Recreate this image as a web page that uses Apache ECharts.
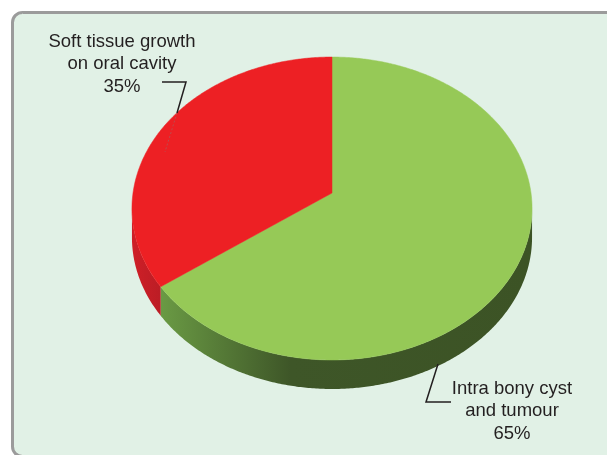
<!DOCTYPE html>
<html>
<head>
<meta charset="utf-8">
<script src="https://cdn.jsdelivr.net/npm/echarts@6/dist/echarts.min.js"></script>
<style>
  html, body { margin: 0; padding: 0; background: #ffffff; }
  #chart { width: 607px; height: 455px; }
</style>
</head>
<body>
<div id="chart"></div>
<script>
// Slice names (line-broken as displayed) and their percentage shares
const categories = ['Intra bony cyst\nand tumour', 'Soft tissue growth\non oral cavity'];
const shares = [65, 35];

// Slice styling
const topColors = ['#96c957', '#ed2024'];
const sideStops = [
  [{ offset: 0, color: '#6a9a44' }, { offset: 0.35, color: '#3e5628' }, { offset: 1, color: '#3c5325' }],
  [{ offset: 0, color: '#cf1f27' }, { offset: 1, color: '#bb1d25' }]
];

// Tilted-disc geometry (perspective projection of a flat circle)
const geo = { cx: 332, cy: 193, a: 199, b: 149.9, e: 0.1023, depth: 29 };
// angles (clockwise from 12 o'clock) bounding the visible front wall
const frontFrom = 180 / Math.PI * Math.acos(-geo.e);
const frontTo = 360 - frontFrom;

// Label placement: text block centre and leader polyline for each slice
const labelLayout = [
  { x: 512, y: 411, leader: [[438, 364], [426, 402], [451, 402]], hidden: null },
  { x: 122, y: 64, leader: [[162, 82], [186, 82], [177, 113]], hidden: [[177, 113], [165, 152]] }
];

function rim(deg, drop) {
  const t = deg * Math.PI / 180;
  const u = Math.sin(t), v = Math.cos(t);
  const w = 1 + geo.e * v;
  return [geo.cx + geo.a * u / w, geo.cy - geo.b * v / w + (drop || 0)];
}

function arc(from, to, drop) {
  const pts = [];
  const n = Math.max(2, Math.ceil((to - from) / 0.5));
  for (let k = 0; k <= n; k++) pts.push(rim(from + (to - from) * k / n, drop));
  return pts;
}

const total = shares.reduce((s, v) => s + v, 0);

function renderSlice(params, api) {
  const i = params.dataIndex;
  const value = api.value(0);
  let before = 0;
  for (let k = 0; k < i; k++) before += shares[k];
  const start = before / total * 360;
  const end = start + value / total * 360;
  const children = [];

  // front wall of the slice
  const s0 = Math.max(start, frontFrom), s1 = Math.min(end, frontTo);
  if (s1 > s0) {
    const upper = arc(s0, s1, 0);
    const lower = arc(s0, s1, geo.depth).reverse();
    const xs = upper.map(p => p[0]);
    children.push({
      type: 'polygon', z2: 1,
      shape: { points: upper.concat(lower) },
      style: {
        fill: new echarts.graphic.LinearGradient(Math.min(...xs), 0, Math.max(...xs), 0, sideStops[i], true)
      }
    });
  }

  // top face
  children.push({
    type: 'polygon', z2: 5,
    shape: { points: [[geo.cx, geo.cy]].concat(arc(start, end, 0)) },
    style: { fill: topColors[i], stroke: topColors[i], lineWidth: 0.5 }
  });

  // leader lines and label
  const lay = labelLayout[i];
  if (lay.hidden) {
    children.push({
      type: 'polyline', z2: 6,
      shape: { points: lay.hidden },
      style: { stroke: 'rgba(150,110,110,0.55)', lineWidth: 1, lineDash: [2, 2], fill: null }
    });
  }
  children.push({
    type: 'polyline', z2: 8,
    shape: { points: lay.leader },
    style: { stroke: '#231f20', lineWidth: 1.5, fill: null }
  });
  children.push({
    type: 'text', z2: 9,
    x: lay.x, y: lay.y,
    style: {
      text: categories[i] + '\n' + value + '%',
      fill: '#231f20',
      fontFamily: '"Liberation Sans", Arial, sans-serif',
      fontSize: 18.5,
      lineHeight: 22.5,
      align: 'center',
      verticalAlign: 'middle'
    }
  });

  return { type: 'group', children };
}

const chart = echarts.init(document.getElementById('chart'), null, { renderer: 'canvas' });
chart.setOption({
  animation: false,
  backgroundColor: '#ffffff',
  graphic: [{
    type: 'rect', z: -1, silent: true,
    shape: { x: 12.5, y: 12.5, width: 640, height: 444, r: 10 },
    style: { fill: '#e1f1e6', stroke: '#9b9b9b', lineWidth: 3 }
  }],
  series: [{
    type: 'custom',
    coordinateSystem: 'none',
    silent: true,
    renderItem: renderSlice,
    data: shares.map(v => [v])
  }]
});
</script>
</body>
</html>
